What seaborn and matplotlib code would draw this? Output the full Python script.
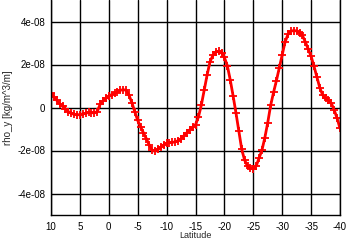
import numpy as np
import pandas as pd
import matplotlib
matplotlib.use("Agg")
import matplotlib.pyplot as plt
import seaborn as sns

latitude = [10.0 - 0.5 * i for i in range(101)]
rho_y_e8 = [
    0.68, 0.50, 0.33, 0.18, 0.07, -0.06, -0.19, -0.27, -0.32, -0.34,
    -0.33, -0.30, -0.27, -0.23, -0.24, -0.25, -0.19, 0.15, 0.31, 0.43,
    0.52, 0.60, 0.67, 0.74, 0.80, 0.83, 0.80, 0.57, 0.22, -0.20,
    -0.60, -0.90, -1.18, -1.45, -1.75, -1.98, -2.01, -1.95, -1.84, -1.74,
    -1.67, -1.63, -1.62, -1.60, -1.54, -1.45, -1.31, -1.17, -1.04, -0.93,
    -0.80, -0.45, 0.10, 0.80, 1.50, 2.12, 2.42, 2.58, 2.62, 2.55,
    2.33, 1.95, 1.30, 0.55, -0.25, -1.10, -1.95, -2.45, -2.72, -2.83,
    -2.84, -2.72, -2.35, -1.98, -1.40, -0.70, 0.10, 0.70, 1.25, 1.85,
    2.45, 3.05, 3.40, 3.55, 3.58, 3.56, 3.48, 3.35, 3.05, 2.72,
    2.38, 1.92, 1.42, 0.92, 0.58, 0.42, 0.33, 0.20, -0.12, -0.50,
    -0.97,
]
x_ticks = [10, 5, 0, -5, -10, -15, -20, -25, -30, -35, -40]
x_tick_labels = ["10", "5", "0", "-5", "-10", "-15", "-20", "-25", "-30", "-35", "-40"]
y_ticks = [4e-8, 2e-8, 0, -2e-8, -4e-8]
y_tick_labels = ["4e-08", "2e-08", "0", "-2e-08", "-4e-08"]

df = pd.DataFrame({"lat": latitude, "rho": [v * 1e-8 for v in rho_y_e8]})

sns.set_style("white")
plt.rcParams["font.family"] = ["Liberation Sans", "DejaVu Sans"]

fig = plt.figure(figsize=(3.46, 2.41), dpi=100)
ax = fig.add_axes([51 / 346, 1 - 215 / 241, 289 / 346, 215 / 241])

sns.lineplot(data=df, x="lat", y="rho", ax=ax, color="#ff0000", linewidth=2.0,
             marker="+", markersize=6, markeredgewidth=1.3, markeredgecolor="#ff0000",
             sort=False, estimator=None)

ax.set_xlim(10, -40)
ax.set_ylim(-5e-8, 5e-8)
ax.set_xticks(x_ticks)
ax.set_xticklabels(x_tick_labels)
ax.set_yticks(y_ticks)
ax.set_yticklabels(y_tick_labels)
ax.tick_params(axis="both", length=0, labelsize=7, colors="black")
ax.tick_params(axis="y", pad=4)
ax.tick_params(axis="x", pad=5)
ax.grid(True, color="black", linewidth=1.0)
ax.set_axisbelow(True)
for name, sp in ax.spines.items():
    sp.set_color("black")
    sp.set_linewidth(1.0)
ax.spines["top"].set_visible(False)

ax.set_xlabel("Latitude", fontsize=6.5, va="bottom")
ax.xaxis.set_label_coords(0.5, -1 / 215 * 24.5)
ax.set_ylabel("rho_y [kg/m^3/m]", fontsize=7, labelpad=3)

fig.savefig("out.png", dpi=100)
